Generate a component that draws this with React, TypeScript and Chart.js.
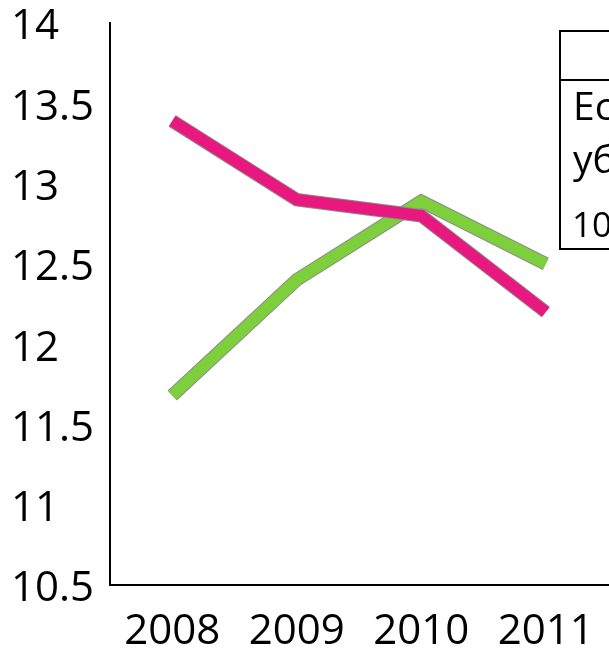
import React, { useEffect, useRef } from "react";
import { Chart, registerables } from "chart.js";

Chart.register(...registerables);

// ---- data ----
const years: string[] = ["2008", "2009", "2010", "2011"];
const pinkSeries: number[] = [13.39, 12.9, 12.8, 12.2];
const greenSeries: number[] = [11.68, 12.4, 12.89, 12.5];
const yMin = 10.5;
const yMax = 14;
const yStep = 0.5;
const boxLines: string[] = ["Ес", "уб", "10"];

// ---- styles ----
const PINK = "#E8187E";
const GREEN = "#7DCF3B";
const OUTLINE = "#8c8c8c";
const FONT = "'Open Sans', 'DejaVu Sans', sans-serif";

const clippedBoxPlugin = {
  id: "clippedBox",
  afterDraw(chart: any) {
    const ctx = chart.ctx as CanvasRenderingContext2D;
    ctx.save();
    ctx.fillStyle = "#fff";
    ctx.fillRect(560, 31, 200, 218);
    ctx.strokeStyle = "#000";
    ctx.lineWidth = 2;
    ctx.strokeRect(560, 31, 200, 218);
    ctx.beginPath();
    ctx.moveTo(560, 80);
    ctx.lineTo(760, 80);
    ctx.stroke();
    ctx.fillStyle = "#000";
    ctx.textAlign = "left";
    ctx.textBaseline = "alphabetic";
    ctx.font = `39px ${FONT}`;
    ctx.fillText(boxLines[0], 573, 120);
    ctx.fillText(boxLines[1], 573, 173);
    ctx.font = `35px ${FONT}`;
    ctx.fillText(boxLines[2], 572, 237);
    ctx.restore();
  },
};

export default function App() {
  const canvasRef = useRef<HTMLCanvasElement | null>(null);

  useEffect(() => {
    let chart: Chart | null = null;
    let cancelled = false;
    const build = () => {
      if (cancelled || !canvasRef.current) return;
      const lineBase = {
        fill: false,
        tension: 0,
        pointRadius: 0,
        pointHoverRadius: 0,
        borderCapStyle: "butt" as const,
        borderJoinStyle: "miter" as const,
      };
      chart = new Chart(canvasRef.current, {
        type: "line",
        data: {
          labels: years,
          datasets: [
            { ...lineBase, label: "pink", data: pinkSeries, borderColor: PINK, borderWidth: 11.5 },
            { ...lineBase, label: "pink-outline", data: pinkSeries, borderColor: OUTLINE, borderWidth: 13.5 },
            { ...lineBase, label: "green", data: greenSeries, borderColor: GREEN, borderWidth: 11.5 },
            { ...lineBase, label: "green-outline", data: greenSeries, borderColor: OUTLINE, borderWidth: 13.5 },
          ],
        },
        options: {
          responsive: false,
          animation: false,
          devicePixelRatio: 1,
          layout: { padding: { top: 23, left: 11, right: 1, bottom: 0 } },
          plugins: {
            legend: { display: false },
            tooltip: { enabled: false },
          },
          scales: {
            x: {
              type: "category",
              offset: true,
              grid: { display: false, drawTicks: false },
              border: { display: true, color: "#000", width: 2 },
              ticks: {
                color: "#000",
                font: { family: FONT, size: 42 },
                padding: 22,
                maxRotation: 0,
                autoSkip: false,
              },
              afterFit: (s: any) => {
                s.height = 66;
                s.paddingLeft = 0;
                s.paddingRight = 0;
              },
            },
            y: {
              min: yMin,
              max: yMax,
              grid: { display: false, drawTicks: false },
              border: { display: true, color: "#000", width: 2 },
              ticks: {
                stepSize: yStep,
                color: "#000",
                crossAlign: "far",
                padding: 0,
                labelOffset: 4.5,
                font: { family: FONT, size: 42 },
                callback: (value: any) => String(Number(value)),
              },
              afterFit: (s: any) => {
                s.width = 99;
                s.paddingTop = 0;
                s.paddingBottom = 0;
              },
            },
          },
        },
        plugins: [clippedBoxPlugin],
      });
    };
    const fontsReady = (document as any).fonts?.load
      ? Promise.all([
          (document as any).fonts.load(`42px 'Open Sans'`),
          (document as any).fonts.load(`39px 'Open Sans'`, "Есуб"),
        ]).catch(() => null)
      : Promise.resolve(null);
    fontsReady.then(build);
    return () => {
      cancelled = true;
      if (chart) chart.destroy();
    };
  }, []);

  return (
    <div
      style={{
        position: "fixed",
        left: 0,
        top: 0,
        width: 609,
        height: 651,
        overflow: "hidden",
        background: "#fff",
      }}
    >
      <canvas ref={canvasRef} width={609} height={651} style={{ display: "block" }} />
    </div>
  );
}
